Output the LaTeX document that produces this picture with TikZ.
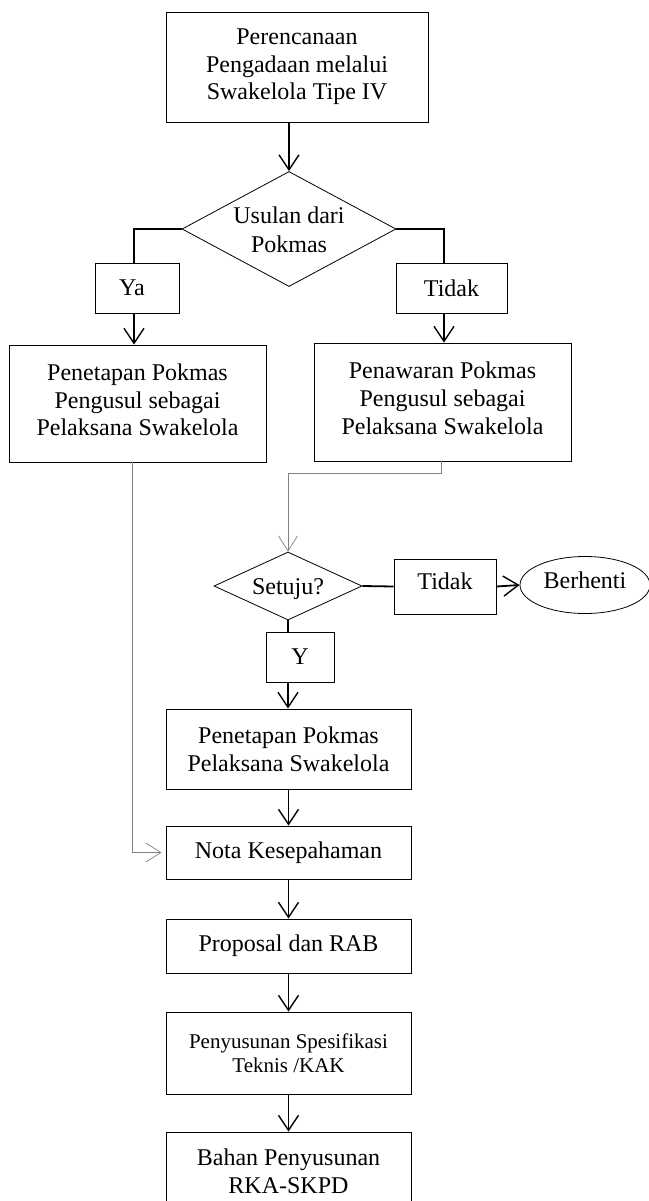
\documentclass[tikz,border=0pt]{standalone}
\usepackage{fontspec}
\setmainfont{Liberation Serif}
\usetikzlibrary{shapes.geometric, arrows.meta}

% lift or drop the text inside a node without changing its size
\newcommand{\upby}[2]{\raisebox{#1}[\height][\depth]{\begin{tabular}{@{}c@{}}#2\end{tabular}}}
% text of no size, so the diamond keeps its minimum size
\newcommand{\flatby}[2]{\makebox[0pt]{\raisebox{#1}[0pt][0pt]{\begin{tabular}{@{}c@{}}#2\end{tabular}}}}

\begin{document}
\begin{tikzpicture}[x=1pt, y=1pt,
    box/.style={draw, line width=0.9pt, align=center, inner sep=0pt,
        font=\fontsize{24}{27.6}\selectfont},
    decision/.style={draw, diamond, line width=0.8pt, inner sep=0pt,
        font=\fontsize{24}{29}\selectfont},
    arr/.style={line width=1.4pt, -{Straight Barb[length=15pt, width=20pt, line width=1.4pt]}},
    link/.style={line width=1.2pt},
    grayarr/.style={draw=gray, line width=0.7pt, -{Straight Barb[length=15pt, width=19pt, line width=0.7pt]}}]
    \useasboundingbox (0, 0) rectangle (648, -1201);

    \node[box, minimum width=262, minimum height=110] (plan) at (297, -67)
        {Perencanaan\\Pengadaan melalui\\Swakelola Tipe IV};
    \node[decision, minimum width=214, minimum height=115] (usulan) at (289, -229)
        {\flatby{-9pt}{Usulan dari\\Pokmas}};
    \node[box, minimum width=84, minimum height=50] (ya) at (137, -288) {Ya\hspace{10pt}};
    \node[box, minimum width=111, minimum height=50] (tidak) at (451.5, -288) {Tidak};
    \node[box, minimum width=257, minimum height=117] (penetapan) at (137.5, -403.5)
        {\upby{1pt}{Penetapan Pokmas\\Pengusul sebagai\\Pelaksana Swakelola}};
    \node[box, minimum width=257, minimum height=118] (penawaran) at (442.5, -402)
        {\upby{1pt}{Penawaran Pokmas\\Pengusul sebagai\\Pelaksana Swakelola}};

    % Setuju?
    \node[decision, minimum width=148, minimum height=68] (setuju) at (288, -586) {\flatby{-9pt}{Setuju?}};
    \node[box, minimum width=102, minimum height=55] (tidakdua) at (445, -586.5) {\upby{3pt}{Tidak}};
    \node[draw, ellipse, line width=0.8pt, inner sep=0pt, minimum width=130, minimum height=57,
        font=\fontsize{24}{27.6}\selectfont] (berhenti) at (585, -585) {\upby{2pt}{Berhenti}};
    \node[box, minimum width=68, minimum height=50] (ytok) at (300, -657) {Y};

    \node[box, minimum width=245, minimum height=80] (pelaksana) at (288.5, -749)
        {Penetapan Pokmas\\Pelaksana Swakelola};
    \node[box, minimum width=245, minimum height=53] (nota) at (288.5, -852.5) {Nota Kesepahaman};
    \node[box, minimum width=245, minimum height=54] (proposal) at (288.5, -946) {Proposal dan RAB};
    \node[box, minimum width=245, minimum height=82, font=\fontsize{21}{23.5}\selectfont] (spek) at (288.5, -1053)
        {Penyusunan Spesifikasi\\Teknis /KAK};
    \node[box, minimum width=245, minimum height=100] (bahan) at (288.5, -1182)
        {\upby{8pt}{Bahan Penyusunan\\RKA-SKPD}};

    % connectors
    \draw[arr] (usulan.north |- plan.south) -- (usulan.north);
    \draw[link] (usulan.west) -| ([xshift=-3pt]ya.north);
    \draw[link] (usulan.east) -| ([xshift=-7.5pt]tidak.north);
    \draw[arr] ([xshift=-3pt]ya.south) -- ([xshift=-3pt]ya.south |- penetapan.north);
    \draw[arr] ([xshift=-7.5pt]tidak.south) -- ([xshift=-7.5pt]tidak.south |- penawaran.north);
    \draw[grayarr] ([xshift=-1.5pt]penawaran.south) -- ++(0, -12) -| (setuju.north);
    \draw[grayarr] ([xshift=-5.5pt]penetapan.south) |- ([xshift=-4pt]nota.west);
    \draw[link, line width=1.8pt] (setuju.east) -- (tidakdua.west);
    \draw[arr, line width=1.8pt] (tidakdua.east) -- (berhenti.west);
    \draw[link] (setuju.south) -- (setuju.south |- ytok.north);
    \draw[arr] (setuju.south |- ytok.south) -- (setuju.south |- pelaksana.north);
    \foreach \a/\b in {pelaksana/nota, nota/proposal, proposal/spek, spek/bahan}
        \draw[arr] (\a.south) -- (\b.north);
\end{tikzpicture}
\end{document}
